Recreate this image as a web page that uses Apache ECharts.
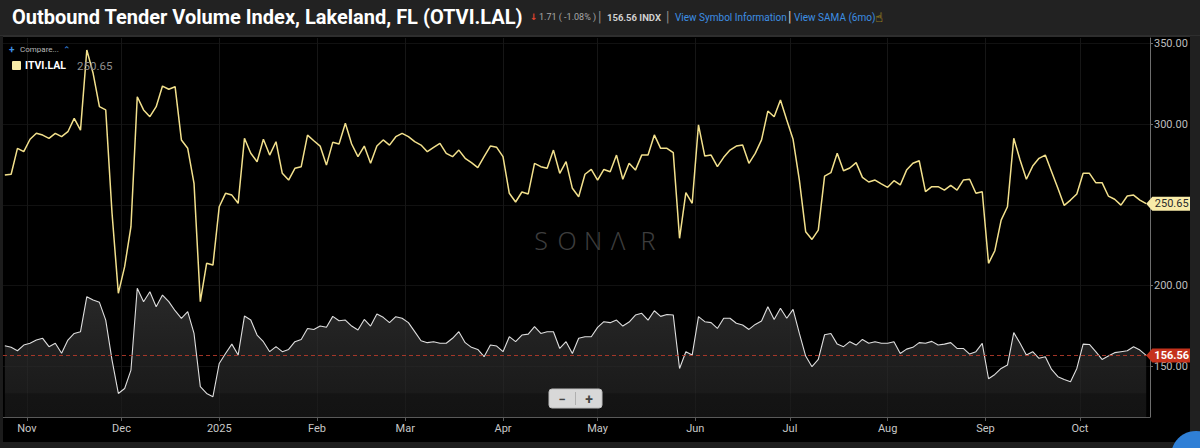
<!DOCTYPE html>
<html><head><meta charset="utf-8">
<script src="https://cdn.jsdelivr.net/npm/echarts@6/dist/echarts.min.js"></script>
<style>html,body{margin:0;padding:0;background:#000;}#c{width:1200px;height:448px;}</style>
</head><body><div id="c"></div>
<script>
// Sample dates: every 2 days starting Oct 25, 2024
const START = [2024, 9, 25];
const STEP_DAYS = 2;

// ITVI.LAL (yellow compare series)
const itvi = [
268.4,268.9,285.0,282.9,290.6,294.3,293.2,291.2,294.3,292.2,
295.3,303.6,296.3,346.0,331.5,310.8,308.8,244.7,195.1,211.6,
236.4,317.0,308.8,304.6,310.8,323.6,321.6,323.2,290.2,285.0,
263.3,189.9,213.7,212.6,248.8,257.1,256.0,250.9,291.2,281.9,
276.7,290.6,280.8,289.1,269.5,265.3,272.6,273.6,293.2,289.7,
286.4,274.6,288.7,287.7,300.5,287.7,279.8,286.4,275.7,286.4,
290.2,287.0,292.2,294.3,292.2,289.1,287.0,282.9,285.6,288.1,
281.9,279.8,283.9,278.8,276.1,273.0,279.8,286.4,285.6,279.8,
257.1,251.7,257.9,256.7,275.7,273.6,272.6,283.9,269.5,276.7,
260.2,255.0,268.9,271.9,265.3,271.9,270.5,280.8,265.8,275.7,
271.5,280.8,280.8,293.3,285.0,285.0,282.3,229.2,257.5,250.9,
299.5,280.2,280.8,273.6,279.4,283.9,286.4,287.0,275.7,281.9,
290.2,308.1,304.6,314.9,302.6,290.6,265.3,233.3,228.5,234.3,
267.8,269.9,281.9,271.1,272.8,276.1,267.0,264.1,265.3,262.9,
260.8,264.9,262.3,271.5,275.7,277.3,258.1,261.2,261.2,259.1,
262.0,259.1,265.3,265.8,257.1,258.1,213.7,221.5,240.5,248.8,
291.2,277.8,265.8,274.0,278.8,280.8,270.5,260.2,249.6,252.9,
256.7,269.5,269.5,263.7,263.7,255.4,253.4,249.8,255.4,256.0,
252.9,250.65
];

// OTVI.LAL (white area main series)
const otvi = [
162.6,161.6,159.5,163.0,164.1,166.1,167.2,162.0,164.1,157.9,
166.1,170.2,171.3,193.0,190.9,189.5,178.5,153.7,133.0,136.1,
147.5,198.2,189.9,196.1,186.8,194.0,189.9,184.3,179.6,183.7,
170.2,137.2,133.0,131.0,151.6,157.8,163.6,156.8,181.0,178.5,
169.2,165.1,158.9,162.0,158.9,160.3,165.1,166.5,173.3,172.7,
174.8,174.0,180.8,178.1,178.5,174.8,172.3,178.9,174.8,182.2,
180.2,176.9,180.6,179.6,176.9,171.3,165.7,164.5,165.1,164.1,
164.1,167.2,171.3,164.5,161.6,160.3,155.8,163.0,162.4,158.9,
168.2,165.1,169.2,169.8,174.4,170.2,171.3,171.3,160.9,165.1,
157.8,167.2,168.2,168.2,174.0,177.5,176.9,178.5,174.8,177.3,
181.6,182.7,178.5,184.3,180.8,182.0,181.6,148.5,158.9,156.8,
180.6,177.5,176.9,173.3,179.6,179.6,176.5,175.4,172.7,175.8,
177.9,186.8,178.9,185.8,179.6,185.1,170.2,156.2,149.6,154.1,
169.4,170.2,163.6,162.0,165.1,163.0,166.5,164.1,165.1,164.1,
164.1,165.1,157.8,160.5,161.6,164.5,164.1,165.3,163.0,163.6,
164.5,160.9,160.9,157.4,158.9,164.1,142.1,144.8,148.5,150.6,
170.7,164.1,156.8,158.9,154.8,155.8,147.9,143.4,141.7,140.3,
148.5,163.6,163.4,158.9,154.1,156.2,158.3,158.9,159.5,162.0,
159.9,156.56
];

const xTickMonths = [[2024,10],[2024,11],[2025,0],[2025,1],[2025,2],[2025,3],[2025,4],[2025,5],[2025,6],[2025,7],[2025,8],[2025,9]];
const xTickLabels = ['Nov','Dec','2025','Feb','Mar','Apr','May','Jun','Jul','Aug','Sep','Oct'];
const yTicks = [150, 200, 250, 300, 350];

const dates = itvi.map((_, i) => new Date(START[0], START[1], START[2] + STEP_DAYS * i).getTime());
const xTickTs = xTickMonths.map(m => new Date(m[0], m[1], 1).getTime());
const lastDate = dates[dates.length - 1];
const lastItvi = itvi[itvi.length - 1];
const lastOtvi = otvi[otvi.length - 1];

const chart = echarts.init(document.getElementById('c'), null, {renderer: 'svg', width: 1200, height: 448});

const FONT = 'Roboto, "Liberation Sans", Arial, sans-serif';
const tagPath = 'path://M0,7L6,0L44,0L44,14L6,14Z';

chart.setOption({
  animation: false,
  backgroundColor: '#000',
  textStyle: {fontFamily: FONT},
  grid: {left: 3, right: 50, top: 38, bottom: 31, containLabel: false},
  xAxis: {
    type: 'value',
    min: new Date(2024, 9, 24, 10).getTime(),
    max: new Date(2025, 9, 23, 5).getTime(),
    axisLine: {show: true, lineStyle: {color: '#5a5a5a', width: 1}},
    axisTick: {show: true, customValues: xTickTs, length: 4, lineStyle: {color: '#5a5a5a'}},
    axisLabel: {
      customValues: xTickTs, color: '#c8c8c8', fontSize: 11, margin: 6, fontFamily: FONT,
      formatter: function (v) {
        let best = 0, bd = Infinity;
        xTickTs.forEach((t, k) => { const d = Math.abs(t - v); if (d < bd) { bd = d; best = k; } });
        return xTickLabels[best];
      }
    },
    splitLine: {show: true, lineStyle: {color: '#161616', width: 1}}
  },
  yAxis: {
    type: 'value',
    position: 'right',
    min: 118.4,
    max: 353.4,
    axisLine: {show: true, lineStyle: {color: '#6e6e6e', width: 1}},
    axisTick: {show: true, customValues: yTicks, length: 3, lineStyle: {color: '#6e6e6e'}},
    axisLabel: {customValues: yTicks, color: '#bdbdbd', fontSize: 11, margin: 4, fontFamily: FONT,
      verticalAlign: 'top', lineHeight: 11, padding: [-5, 0, 0, 0],
      formatter: v => Number(v).toFixed(2)},
    splitLine: {show: true, lineStyle: {color: '#111111', width: 1}}
  },
  series: [
    {
      name: 'OTVI.LAL',
      type: 'line',
      data: dates.map((d, i) => [d, otvi[i]]),
      symbol: 'none',
      z: 2,
      lineStyle: {color: '#dedede', width: 1.1},
      areaStyle: {
        color: {type: 'linear', x: 0, y: 0, x2: 0, y2: 1, colorStops: [
          {offset: 0, color: '#3a3a3a'},
          {offset: 0.45, color: '#2e2e2e'},
          {offset: 0.81, color: '#262626'},
          {offset: 0.82, color: '#1d1d1d'},
          {offset: 1, color: '#1b1b1b'}
        ]}
      },
      markLine: {
        silent: true, symbol: 'none', label: {show: false},
        lineStyle: {color: '#b23a2a', type: [4, 3], width: 1, opacity: 0.9},
        data: [{yAxis: lastOtvi}]
      },
      markPoint: {
        silent: true,
        symbol: tagPath, symbolSize: [45, 14], symbolOffset: [22.5, 0], symbolKeepAspect: false,
        itemStyle: {color: '#c5321c'},
        label: {show: true, position: 'inside', offset: [3, 0], color: '#fff', fontSize: 11, fontWeight: 'bold', fontFamily: FONT,
          formatter: () => lastOtvi.toFixed(2)},
        data: [{coord: [lastDate, lastOtvi]}]
      }
    },
    {
      name: 'ITVI.LAL',
      type: 'line',
      data: dates.map((d, i) => [d, itvi[i]]),
      symbol: 'none',
      z: 3,
      lineStyle: {color: '#f2e08c', width: 1.5},
      markPoint: {
        silent: true,
        symbol: tagPath, symbolSize: [45, 14], symbolOffset: [22.5, 0], symbolKeepAspect: false,
        itemStyle: {color: '#f8eba8'},
        label: {show: true, position: 'inside', offset: [3, 0], color: '#2a2a2a', fontSize: 11, fontFamily: FONT,
          formatter: () => lastItvi.toFixed(2)},
        data: [{coord: [lastDate, lastItvi]}]
      }
    }
  ],
  graphic: [
    {type: 'rect', z: 50, shape: {x: 0, y: 0, width: 1200, height: 36}, style: {fill: '#222222'}},
    {type: 'rect', z: 50, shape: {x: 0, y: 35, width: 1200, height: 2}, style: {fill: '#2e2e2e'}},
    {type: 'rect', z: 50, shape: {x: 0, y: 36, width: 3, height: 412}, style: {fill: '#1c1c1c'}},
    {type: 'rect', z: 50, shape: {x: 1190, y: 36, width: 10, height: 412}, style: {fill: '#202020'}},
    {type: 'rect', z: 50, shape: {x: 0, y: 442, width: 1200, height: 6}, style: {fill: '#1e1e1e'}},
    {type: 'circle', z: 51, shape: {cx: 1196, cy: 456, r: 25}, style: {fill: '#2f7fd6'}},
    {type: 'text', z: 60, style: {x: 12, y: 17, text: 'Outbound Tender Volume Index, Lakeland, FL (OTVI.LAL)', fill: '#ffffff', font: 'bold 20px ' + FONT, verticalAlign: 'middle'}},
    {type: 'text', z: 60, style: {x: 530, y: 17, text: '↓', fill: '#e0442e', font: 'bold 9px "DejaVu Sans"', verticalAlign: 'middle'}},
    {type: 'text', z: 60, style: {x: 539, y: 17, text: '1.71 ( -1.08% )', fill: '#a9a9a9', font: '9px ' + FONT, verticalAlign: 'middle'}},
    {type: 'text', z: 60, style: {x: 598, y: 17, text: '|', fill: '#8a8a8a', font: '14px ' + FONT, verticalAlign: 'middle'}},
    {type: 'text', z: 60, style: {x: 607, y: 17, text: '156.56 INDX', fill: '#d0d0d0', font: 'bold 9.5px ' + FONT, verticalAlign: 'middle'}},
    {type: 'text', z: 60, style: {x: 666, y: 17, text: '|', fill: '#8a8a8a', font: '14px ' + FONT, verticalAlign: 'middle'}},
    {type: 'text', z: 60, style: {x: 675, y: 17, text: 'View Symbol Information', fill: '#3d8fe4', font: '10px ' + FONT, verticalAlign: 'middle'}},
    {type: 'text', z: 60, style: {x: 788, y: 17, text: '|', fill: '#cfcfcf', font: '14px ' + FONT, verticalAlign: 'middle'}},
    {type: 'text', z: 60, style: {x: 794, y: 17, text: 'View SAMA (6mo)', fill: '#3d8fe4', font: '10px ' + FONT, verticalAlign: 'middle'}},
    {type: 'text', z: 60, style: {x: 875, y: 17, text: '☝', fill: '#e8c81e', font: '13px "DejaVu Sans"', verticalAlign: 'middle'}},
    {type: 'text', z: 60, style: {x: 9, y: 49, text: '+', fill: '#3d8fe4', font: 'bold 10px ' + FONT, verticalAlign: 'middle'}},
    {type: 'text', z: 60, style: {x: 20, y: 49, text: 'Compare...', fill: '#b8b8b8', font: '8px ' + FONT, verticalAlign: 'middle'}},
    {type: 'text', z: 60, style: {x: 63, y: 50, text: '⌃', fill: '#3d8fe4', font: '9px "DejaVu Sans"', verticalAlign: 'middle'}},
    {type: 'rect', z: 60, shape: {x: 12, y: 61, width: 9, height: 9, r: 1}, style: {fill: '#f8eba8'}},
    {type: 'text', z: 60, style: {x: 25, y: 65.5, text: 'ITVI.LAL', fill: '#ffffff', font: 'bold 10.5px ' + FONT, verticalAlign: 'middle'}},
    {type: 'text', z: 60, style: {x: 77, y: 65.5, text: lastItvi.toFixed(2), fill: '#8e8e8e', font: '11.5px ' + FONT, verticalAlign: 'middle'}},
    {type: 'text', z: 1, style: {x: 541, y: 240, text: 'S', fill: '#3d3d3d', font: '300 25px "Noto Sans"', align: 'center', verticalAlign: 'middle'}},
    {type: 'text', z: 1, style: {x: 567, y: 240, text: 'O', fill: '#3d3d3d', font: '300 25px "Noto Sans"', align: 'center', verticalAlign: 'middle'}},
    {type: 'text', z: 1, style: {x: 593, y: 240, text: 'N', fill: '#3d3d3d', font: '300 25px "Noto Sans"', align: 'center', verticalAlign: 'middle'}},
    {type: 'text', z: 1, style: {x: 618, y: 240, text: 'Λ', fill: '#3d3d3d', font: '300 25px "Noto Sans"', align: 'center', verticalAlign: 'middle'}},
    {type: 'text', z: 1, style: {x: 648, y: 240, text: 'R', fill: '#3d3d3d', font: '300 25px "Noto Sans"', align: 'center', verticalAlign: 'middle'}},
    {type: 'rect', z: 70, shape: {x: 549, y: 389, width: 53, height: 19, r: 3}, style: {fill: '#d8d8d8', stroke: '#bdbdbd', lineWidth: 1}},
    {type: 'rect', z: 71, shape: {x: 575, y: 392, width: 1, height: 13}, style: {fill: '#b0b0b0'}},
    {type: 'text', z: 72, style: {x: 562, y: 399, text: '−', fill: '#444', font: 'bold 13px ' + FONT, align: 'center', verticalAlign: 'middle'}},
    {type: 'text', z: 72, style: {x: 589, y: 399, text: '+', fill: '#444', font: 'bold 14px ' + FONT, align: 'center', verticalAlign: 'middle'}}
  ]
});
</script>
</body></html>
